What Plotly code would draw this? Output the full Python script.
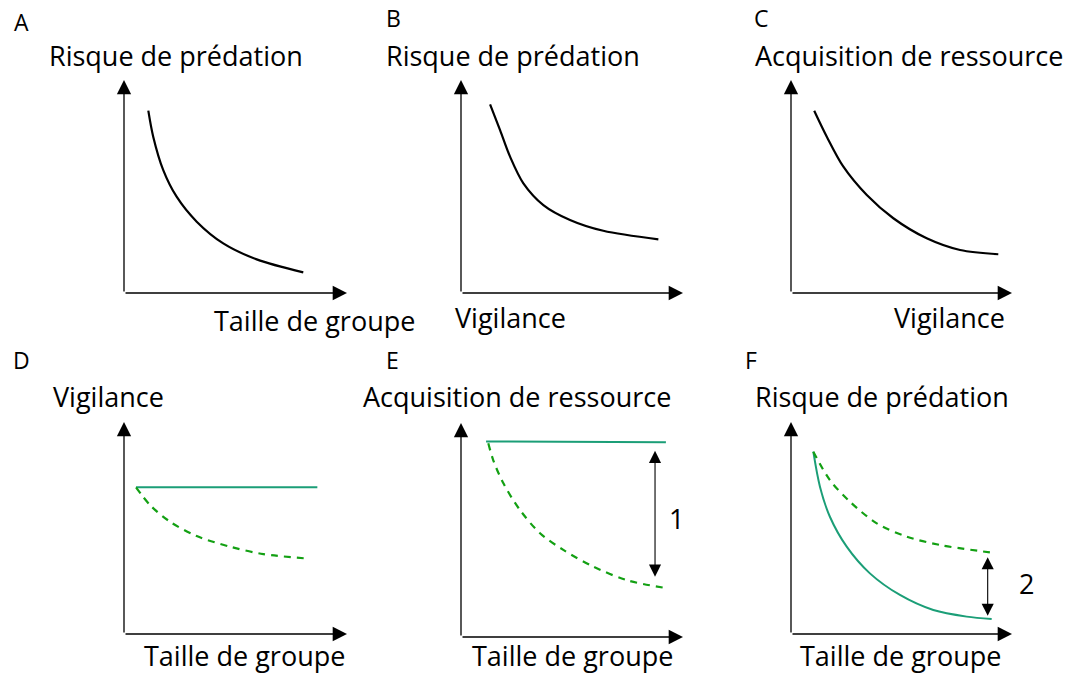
import plotly.graph_objects as go

# ---- curve data (each panel uses a 0-10 by 0-10 frame) ----
a_x = [1.09, 1.31, 1.76, 2.36, 3.26, 4.45, 5.95, 8.04]
a_y = [8.56, 7.34, 5.77, 4.52, 3.35, 2.33, 1.58, 0.97]

b_x = [1.31, 1.76, 2.21, 2.81, 3.71, 4.91, 6.41, 8.89]
b_y = [8.86, 7.65, 6.40, 5.15, 4.13, 3.43, 2.92, 2.52]

c_x = [1.05, 1.62, 2.37, 3.43, 4.63, 6.14, 7.65, 9.38]
c_y = [8.56, 7.34, 5.93, 4.60, 3.51, 2.57, 2.02, 1.82]

d_solid_x = [0.54, 8.67]
d_solid_y = [6.92, 6.92]
d_dash_x = [0.54, 1.17, 2.06, 3.26, 4.75, 6.25, 8.34]
d_dash_y = [6.92, 6.08, 5.30, 4.62, 4.12, 3.77, 3.55]

e_solid_x = [1.13, 9.23]
e_solid_y = [9.14, 9.10]
e_dash_x = [1.23, 1.45, 1.91, 2.66, 3.56, 4.61, 5.96, 7.46, 9.27]
e_dash_y = [9.05, 8.27, 7.18, 5.93, 4.85, 4.07, 3.29, 2.66, 2.28]
e_gap = {"x": 8.74, "top": 8.77, "bottom": 2.82, "label": "1"}

f_solid_x = [1.01, 1.31, 1.76, 2.52, 3.57, 4.93, 6.44, 7.95, 9.08]
f_solid_y = [8.60, 6.95, 5.53, 4.12, 2.86, 1.84, 1.13, 0.82, 0.71]
f_dash_x = [1.01, 1.76, 2.67, 3.88, 5.24, 6.74, 9.00]
f_dash_y = [8.60, 7.26, 6.24, 5.22, 4.59, 4.20, 3.85]
f_gap = {"x": 8.90, "top": 3.69, "bottom": 0.86, "label": "2"}

panel_letters = ["A", "B", "C", "D", "E", "F"]
y_titles = ["Risque de prédation", "Risque de prédation", "Acquisition de ressource",
            "Vigilance", "Acquisition de ressource", "Risque de prédation"]
x_titles = ["Taille de groupe", "Vigilance", "Vigilance",
            "Taille de groupe", "Taille de groupe", "Taille de groupe"]

# ---- layout geometry (pixels) ----
W, H = 1066, 675
FONT = "Open Sans"
TXT = 27
BLACK = "#000000"
TEAL = "#1b9e77"
GREEN = "#13a013"

# frame: origin (ox, oy) and arrow tips (xt, yt)
frames = [
    (124, 293, 347, 80),
    (461, 293, 683, 80),
    (791, 293, 1012, 80),
    (124, 634, 347, 422),
    (461, 637, 683, 423),
    (791, 634, 1012, 422),
]
letter_pos = [(21, 22), (393, 18), (761, 18), (21, 360), (392, 360), (751, 360)]
ytitle_pos = [(176, 55), (513, 55), (909, 55), (108, 396), (517, 396), (882, 396)]
xtitle_pos = [(314, 320), (510, 318), (949, 318), (245, 655), (572, 655), (900, 655)]
gap_label_pos = {4: (676, 518), 5: (1026, 583)}


def px(x):
    return x / W


def py(y):
    return 1 - y / H


fig = go.Figure()
layout = dict(width=W, height=H, margin=dict(l=0, r=0, t=0, b=0),
              paper_bgcolor="white", plot_bgcolor="white", showlegend=False)

for i, (ox, oy, xt, yt) in enumerate(frames):
    n = "" if i == 0 else str(i + 1)
    layout["xaxis" + n] = dict(domain=[px(ox), px(xt)], range=[0, 10], visible=False,
                               anchor="y" + n, fixedrange=True)
    layout["yaxis" + n] = dict(domain=[py(oy), py(yt)], range=[0, 10], visible=False,
                               anchor="x" + n, fixedrange=True)

fig.update_layout(**layout)


def add_line(i, xs, ys, color, dash=None, width=2.0):
    n = "" if i == 0 else str(i + 1)
    fig.add_trace(go.Scatter(x=xs, y=ys, mode="lines", xaxis="x" + n, yaxis="y" + n,
                             line=dict(color=color, width=width, dash=dash, shape="spline",
                                       smoothing=0.9),
                             hoverinfo="skip"))


add_line(0, a_x, a_y, BLACK, width=2.2)
add_line(1, b_x, b_y, BLACK, width=2.2)
add_line(2, c_x, c_y, BLACK, width=2.2)
add_line(3, d_solid_x, d_solid_y, TEAL)
add_line(3, d_dash_x, d_dash_y, GREEN, dash="7px,6px", width=2.2)
add_line(4, e_solid_x, e_solid_y, TEAL)
add_line(4, e_dash_x, e_dash_y, GREEN, dash="7px,6px", width=2.2)
add_line(5, f_solid_x, f_solid_y, TEAL)
add_line(5, f_dash_x, f_dash_y, GREEN, dash="7px,6px", width=2.2)

annotations = []
for i in range(6):
    n = "" if i == 0 else str(i + 1)
    xr, yr = "x" + n, "y" + n
    # axis arrows
    for (tx, ty) in [(10, 0), (0, 10)]:
        annotations.append(dict(x=tx, y=ty, ax=0, ay=0, xref=xr, yref=yr, axref=xr, ayref=yr,
                                text="", showarrow=True, arrowhead=2, arrowsize=2.2,
                                arrowwidth=1.3, arrowcolor=BLACK, standoff=0, startstandoff=0))
    lx, ly = letter_pos[i]
    annotations.append(dict(x=px(lx), y=py(ly), xref="paper", yref="paper", text=panel_letters[i],
                            showarrow=False, xanchor="center", yanchor="middle",
                            font=dict(family=FONT, size=23, color=BLACK)))
    tx_, ty_ = ytitle_pos[i]
    annotations.append(dict(x=px(tx_), y=py(ty_), xref="paper", yref="paper", text=y_titles[i],
                            showarrow=False, xanchor="center", yanchor="middle",
                            font=dict(family=FONT, size=TXT, color=BLACK)))
    tx_, ty_ = xtitle_pos[i]
    annotations.append(dict(x=px(tx_), y=py(ty_), xref="paper", yref="paper", text=x_titles[i],
                            showarrow=False, xanchor="center", yanchor="middle",
                            font=dict(family=FONT, size=TXT, color=BLACK)))

# double-headed arrows showing the gap between the two curves
for i, gap in [(4, e_gap), (5, f_gap)]:
    n = str(i + 1)
    xr, yr = "x" + n, "y" + n
    annotations.append(dict(x=gap["x"], y=gap["bottom"], ax=gap["x"], ay=gap["top"],
                            xref=xr, yref=yr, axref=xr, ayref=yr, text="", showarrow=True,
                            arrowhead=2, arrowside="end+start", arrowsize=2.2, arrowwidth=1.1,
                            arrowcolor=BLACK, standoff=0, startstandoff=0))
    lx, ly = gap_label_pos[i]
    annotations.append(dict(x=px(lx), y=py(ly), xref="paper", yref="paper", text=gap["label"],
                            showarrow=False, xanchor="center", yanchor="middle",
                            font=dict(family=FONT, size=TXT, color=BLACK)))

fig.update_layout(annotations=annotations)
fig.write_html("out.html")
